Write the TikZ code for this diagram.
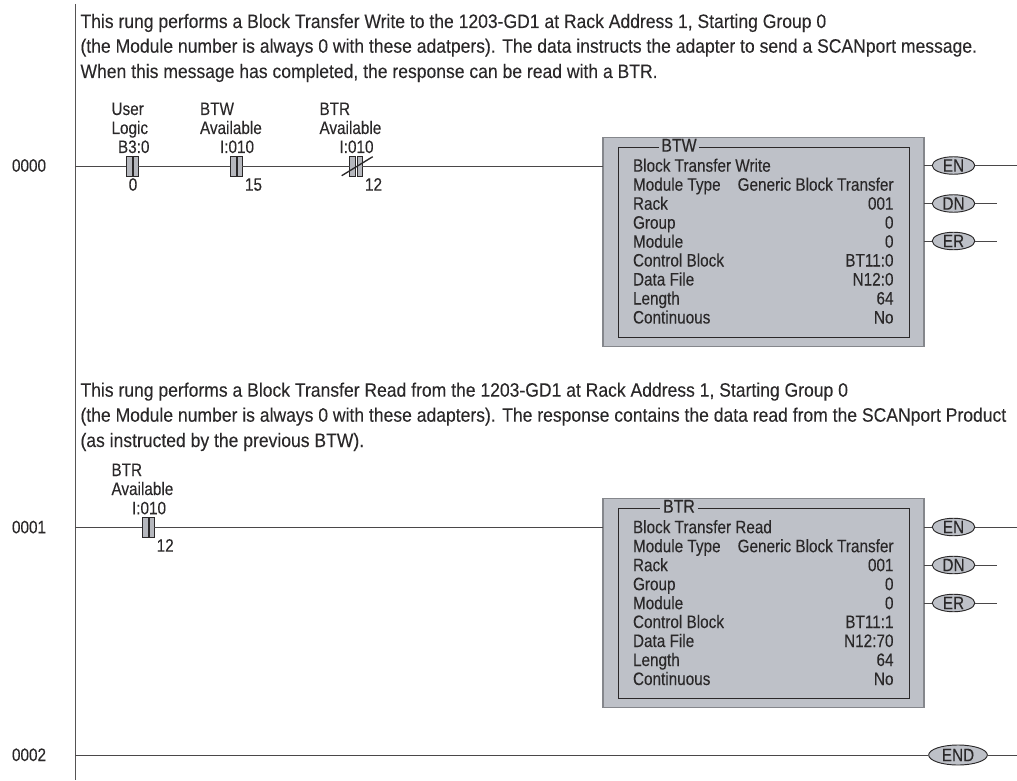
\documentclass[tikz,border=0pt]{standalone}
\usepackage{fontspec}
\setmainfont{Liberation Sans}
\newfontfamily\parafont[FakeStretch=0.901,FakeBold=0.12]{Liberation Sans}
\newfontfamily\boxfont[FakeStretch=0.85,FakeBold=0.12]{Liberation Sans}
\newfontfamily\titlefont[FakeStretch=0.85,FakeBold=0.35]{Liberation Sans}
\usetikzlibrary{shapes.geometric}
\definecolor{panel}{HTML}{BEC1C8}
\definecolor{ink}{HTML}{2A2829}
\definecolor{shadowg}{HTML}{85878C}
\tikzset{
 x=0.75pt,y=-0.75pt,
 txt/.style={inner sep=0,outer sep=0,anchor=base west,text=ink,font=\boxfont\fontsize{13.5}{13.5}\selectfont},
 para/.style={txt,font=\parafont\fontsize{14.6}{14.6}\selectfont},
 txtr/.style={txt,anchor=base east},
 txtc/.style={txt,anchor=base},
 wire/.style={draw=ink!85,line width=0.6pt},
 bar/.style={draw=ink,fill=panel!85!gray,line width=0.5pt,minimum height=14.5pt,inner sep=0,outer sep=0},
 coil/.style={ellipse,draw=ink,fill=panel,line width=0.7pt,inner sep=0,minimum width=32pt,minimum height=12pt,text=ink,font=\boxfont\fontsize{13.5}{13.5}\selectfont},
 blockbox/.style={draw=shadowg,fill=panel,line width=0.9pt,minimum width=240.75pt,minimum height=157pt,inner sep=0,outer sep=0},
 innerbox/.style={draw=ink,line width=0.6pt,minimum width=218.25pt,minimum height=142.5pt,inner sep=0,outer sep=0},
}
\newcommand{\contact}[3]{% name, x of left, y
 \node[bar,minimum width=4.5pt,anchor=west] (#1a) at (#2+0.3,#3) {};
 \node[bar,minimum width=3.5pt,anchor=west] (#1b) at (#2+8,#3) {};
}
\newcommand{\blockpanel}[3]{% name,title,y offset
 \node[blockbox,anchor=north west] (#1) at (603,137.3+#3) {};
 \node[innerbox,anchor=north west] (#1i) at (618,147.3+#3) {};
 \node[txtc,fill=panel,inner xsep=2pt,inner ysep=0pt,font=\titlefont\fontsize{14}{14}\selectfont] (#1t) at (679,151.7+#3) {#2};
}
\begin{document}
\begin{tikzpicture}
\useasboundingbox (0,0) rectangle (1017,781);
% rail
\coordinate (railtop) at (75,4);
\coordinate (railbot) at (75,780);
\draw[draw=ink!80,line width=0.7pt] (railtop) -- (railbot);
% comments
\node[para] (p1) at (80.5,28) {This rung performs a Block Transfer Write to the 1203-GD1 at Rack Address 1, Starting Group 0};
\node[para] (p2) at (80.5,52.7) {(the Module number is always 0 with these adatpers). The data instructs the adapter to send a SCANport message.};
\node[para] (p3) at (80.5,78) {When this message has completed, the response can be read with a BTR.};
\node[para] (p4) at (80.5,396.7) {This rung performs a Block Transfer Read from the 1203-GD1 at Rack Address 1, Starting Group 0};
\node[para] (p5) at (80.5,421.7) {(the Module number is always 0 with these adapters). The response contains the data read from the SCANport Product};
\node[para] (p6) at (80.5,447) {(as instructed by the previous BTW).};
% rung numbers
\node[txt] (n0) at (12,171.7) {0000};
\node[txt] (n1) at (12,533.3) {0001};
\node[txt] (n2) at (12,761) {0002};
% contact labels
\node[txt] at (111.5,115) {User};
\node[txt] at (111.5,134) {Logic};
\node[txt] at (118,153) {B3:0};
\node[txtc] at (133,190.7) {0};
\node[txt] at (200,115) {BTW};
\node[txt] at (200,134) {Available};
\node[txt] at (220,153) {I:010};
\node[txt] at (245,190.7) {15};
\node[txt] at (319.5,115) {BTR};
\node[txt] at (319.5,134) {Available};
\node[txt] at (339.5,153) {I:010};
\node[txt] at (365,190.7) {12};
\node[txt] at (111.5,476) {BTR};
\node[txt] at (111.5,495) {Available};
\node[txt] at (132,514.3) {I:010};
\node[txt] at (156.7,551.7) {12};
% rung anchors
\coordinate (r0) at (75,166);
\coordinate (r1) at (75,527);
\coordinate (r2) at (75,755);
% blocks
\blockpanel{w}{BTW}{0}
\blockpanel{r}{BTR}{361}
\foreach \o/\a/\b/\c in {0/Write/BT11:0/N12:0,361.5/Read/BT11:1/N12:70}{
 \node[txt] at (633,171.7+\o) {Block Transfer \a};
 \node[txt] at (633,190.7+\o) {Module Type};
 \node[txtr] at (893.5,190.7+\o) {Generic Block Transfer};
 \node[txt] at (633,209.7+\o) {Rack};
 \node[txtr] at (893.5,209.7+\o) {001};
 \node[txt] at (633,228.7+\o) {Group};
 \node[txtr] at (893.5,228.7+\o) {0};
 \node[txt] at (633,247.7+\o) {Module};
 \node[txtr] at (893.5,247.7+\o) {0};
 \node[txt] at (633,266.5+\o) {Control Block};
 \node[txtr] at (893.5,266.5+\o) {\b};
 \node[txt] at (633,285.5+\o) {Data File};
 \node[txtr] at (893.5,285.5+\o) {\c};
 \node[txt] at (633,304.5+\o) {Length};
 \node[txtr] at (893.5,304.5+\o) {64};
 \node[txt] at (633,323.5+\o) {Continuous};
 \node[txtr] at (893.5,323.5+\o) {No};
}
% contacts
\contact{ca}{125.7}{166.5}
\contact{cb}{229.7}{166.5}
\contact{cc}{349.3}{166.5}
\contact{cd}{141.7}{527.3}
% coils
\node[coil] (wen) at (953.5,165.5) {EN};
\node[coil] (wdn) at (953.5,203.5) {DN};
\node[coil] (wer) at (953.5,241) {ER};
\node[coil] (ren) at (953.5,527) {EN};
\node[coil] (rdn) at (953.5,565) {DN};
\node[coil] (rer) at (953.5,603) {ER};
\node[coil,minimum width=44pt,minimum height=15pt] (end) at (958,755) {END};
\coordinate (wenx) at (1017,165.5);
\coordinate (wdnx) at (997,203.5);
\coordinate (werx) at (997,241);
\coordinate (renx) at (1017,527);
\coordinate (rdnx) at (997,565);
\coordinate (rerx) at (997,603);
\coordinate (endx) at (1017,755);
% wires
\draw[wire] (r0) -- (caa.west |- r0);
\draw[wire] (cab.east |- r0) -- (cba.west |- r0);
\draw[wire] (cbb.east |- r0) -- (cca.west |- r0);
\draw[wire] (ccb.east |- r0) -- (w.west |- r0);
\draw[wire] (r1) -- (cda.west |- r1);
\draw[wire] (cdb.east |- r1) -- (r.west |- r1);
\draw[wire] (r2) -- (end.west);
\draw[wire] (end.east) -- (endx);
\foreach \c/\x/\b in {wen/wenx/w,wdn/wdnx/w,wer/werx/w,ren/renx/r,rdn/rdnx/r,rer/rerx/r}{
 \draw[wire] (\b.east |- \c.west) -- (\c.west);
 \draw[wire] (\c.east) -- (\x);
}
% slash on negated contact
\coordinate (sa) at (341.7,175.7);
\coordinate (sb) at (372.7,156.7);
\draw[draw=ink,line width=1pt] (sa) -- (sb);
\end{tikzpicture}
\end{document}
